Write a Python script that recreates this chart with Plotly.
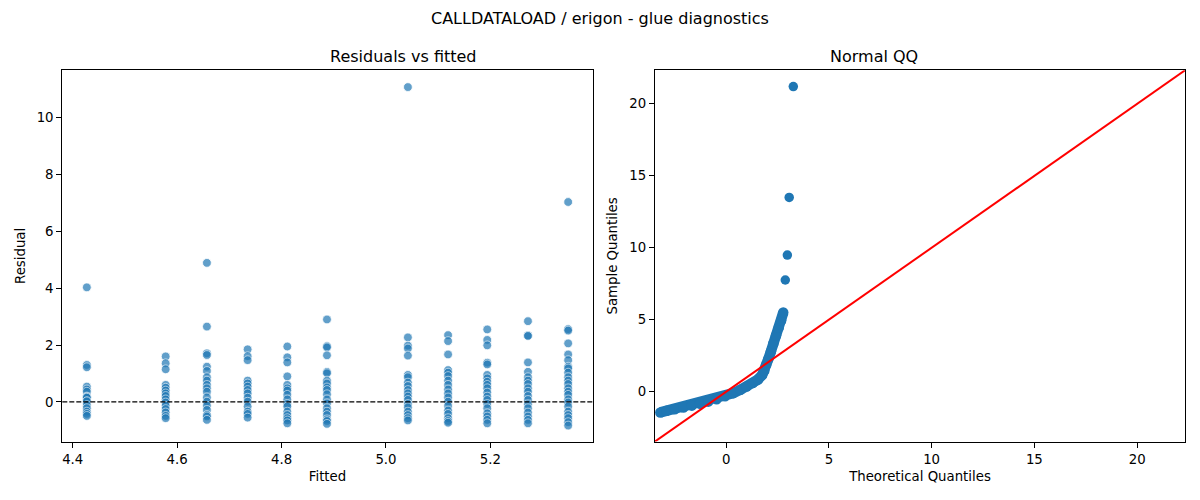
import plotly.graph_objects as go
from plotly.subplots import make_subplots

# ---- residuals vs fitted: one residual list per fitted level ----
fitted_levels = [4.427, 4.578, 4.657, 4.735, 4.811, 4.887, 5.042, 5.119, 5.194, 5.272, 5.349]

resid_g1 = [4.03, 1.30, 1.22, 0.54, 0.44, 0.36, 0.19, 0.17, 0.15, 0.01, 0.03, -0.11, -0.22, -0.34, -0.42, -0.49]
resid_g2 = [1.60, 1.36, 1.15, 0.60, 0.50, 0.40, 0.30, 0.21, 0.09, -0.02, -0.13, -0.25, -0.37, -0.49, -0.57]
resid_g3 = [4.89, 2.65, 1.71, 1.65, 1.24, 1.09, 0.87, 0.75, 0.60, 0.48, 0.36, 0.16, 0.01, -0.13,
            -0.28, -0.46, -0.51, -0.63]
resid_g4 = [1.85, 1.61, 1.47, 0.75, 0.65, 0.54, 0.42, 0.30, 0.15, 0.01, -0.16, -0.34, -0.42, -0.55]
resid_g5 = [1.95, 1.57, 1.39, 0.90, 0.60, 0.48, 0.40, 0.25, 0.09, -0.07, -0.16, -0.34, -0.46, -0.57,
            -0.65, -0.75]
resid_g6 = [2.90, 1.96, 1.92, 1.64, 1.06, 1.01, 0.75, 0.65, 0.51, 0.42, 0.27, 0.09, -0.05, -0.22,
            -0.34, -0.46, -0.61, -0.67, -0.77]
resid_g7 = [11.07, 2.27, 1.98, 1.88, 1.63, 0.95, 0.87, 0.68, 0.56, 0.42, 0.30, 0.19, 0.07, -0.07,
            -0.19, -0.34, -0.46, -0.57, -0.65]
resid_g8 = [2.35, 2.14, 1.67, 1.12, 1.03, 0.91, 0.75, 0.60, 0.44, 0.30, 0.16, 0.01, -0.14, -0.30,
            -0.42, -0.57, -0.67, -0.73]
resid_g9 = [2.55, 2.18, 1.99, 1.38, 1.32, 0.95, 0.83, 0.71, 0.60, 0.48, 0.33, 0.19, 0.07, -0.07,
            -0.22, -0.40, -0.51, -0.63, -0.75]
resid_g10 = [2.84, 2.34, 2.32, 1.39, 1.06, 0.87, 0.75, 0.63, 0.48, 0.36, 0.21, 0.07, -0.08, -0.22,
             -0.37, -0.51, -0.63, -0.75]
resid_g11 = [7.03, 2.56, 2.51, 2.06, 1.67, 1.47, 1.24, 1.18, 1.03, 0.87, 0.75, 0.63, 0.48, 0.36,
             0.25, 0.09, -0.02, -0.16, -0.34, -0.46, -0.57, -0.71, -0.83]

residual_groups = [resid_g1, resid_g2, resid_g3, resid_g4, resid_g5, resid_g6,
                   resid_g7, resid_g8, resid_g9, resid_g10, resid_g11]

# ---- normal QQ (read along the dense band + the separate outliers) ----
qq_theoretical = [-3.20, -2.89, -2.50, -2.08, -1.67, -1.27, -0.87, -0.46, -0.05, 0.35, 0.70, 1.00,
                  1.30, 1.55, 1.75, 1.86, 1.95, 2.05, 2.18, 2.30, 2.43, 2.56, 2.68, 2.78]
qq_sample = [-1.44, -1.33, -1.22, -1.10, -0.97, -0.84, -0.69, -0.52, -0.32, -0.10, 0.14, 0.36,
             0.60, 0.85, 1.15, 1.45, 1.85, 2.25, 2.80, 3.35, 3.90, 4.45, 4.95, 5.50]
qq_out_theoretical = [2.88, 2.98, 3.07, 3.27]
qq_out_sample = [7.76, 9.49, 13.50, 21.20]
qq_limits = [-3.46, 22.33]

BLUE = "#1f77b4"
FONT = "DejaVu Sans"

# page body has an 8px margin, so place things in page pixels minus that
W, H, OFF = 1200, 500, 8


def px_x(p):
    return (p - OFF) / W


def px_y(p):
    return 1 - (p - OFF) / H


left_dom = [px_x(62.3), px_x(592.7)]
right_dom = [px_x(655), px_x(1185)]
y_dom = [px_y(441.5), px_y(70.3)]

x_fit, y_res = [], []
for lvl, grp in zip(fitted_levels, residual_groups):
    x_fit += [lvl] * len(grp)
    y_res += grp

fig = make_subplots(rows=1, cols=2)

fig.add_trace(go.Scatter(x=x_fit, y=y_res, mode="markers",
                         marker=dict(color=BLUE, size=8.8, opacity=0.7,
                                     line=dict(color="white", width=0.8)),
                         showlegend=False), row=1, col=1)

fig.add_hline(y=0, line=dict(color="black", width=1.3, dash="5px,2px"), row=1, col=1)

# dense band drawn as thick line + markers
fig.add_trace(go.Scatter(x=qq_theoretical, y=qq_sample, mode="lines+markers",
                         line=dict(color=BLUE, width=10.5),
                         marker=dict(color=BLUE, size=10.5),
                         showlegend=False), row=1, col=2)
fig.add_trace(go.Scatter(x=qq_out_theoretical, y=qq_out_sample, mode="markers",
                         marker=dict(color=BLUE, size=9.5),
                         showlegend=False), row=1, col=2)
fig.add_trace(go.Scatter(x=qq_limits, y=qq_limits, mode="lines",
                         line=dict(color="red", width=2),
                         showlegend=False), row=1, col=2)

axis_style = dict(showline=True, mirror=True, linecolor="black", linewidth=1.1,
                  ticks="outside", ticklen=5, tickcolor="black", showgrid=False,
                  zeroline=False, tickfont=dict(size=13.3, color="black"))

fig.update_xaxes(axis_style)
fig.update_yaxes(axis_style)

fig.update_xaxes(domain=left_dom, range=[4.380, 5.396], tickvals=[4.4, 4.6, 4.8, 5.0, 5.2],
                 tickformat=".1f", title=dict(text="Fitted", standoff=6, font=dict(size=13.3)),
                 row=1, col=1)
fig.update_yaxes(domain=y_dom, range=[-1.39, 11.66], tickvals=[0, 2, 4, 6, 8, 10],
                 title=dict(text="Residual", standoff=8, font=dict(size=13.3)), row=1, col=1)
fig.update_xaxes(domain=right_dom, range=qq_limits, tickvals=[0, 5, 10, 15, 20],
                 title=dict(text="Theoretical Quantiles", standoff=6, font=dict(size=13.3)),
                 row=1, col=2)
fig.update_yaxes(domain=y_dom, range=qq_limits, tickvals=[0, 5, 10, 15, 20],
                 title=dict(text="Sample Quantiles", standoff=8, font=dict(size=13.3)), row=1, col=2)

fig.add_annotation(text="CALLDATALOAD / erigon - glue diagnostics", x=px_x(600), y=px_y(18),
                   xref="paper", yref="paper", yanchor="middle", showarrow=False, font=dict(size=16))
fig.add_annotation(text="Residuals vs fitted", x=sum(left_dom) / 2, y=px_y(57),
                   xref="paper", yref="paper", yanchor="middle", showarrow=False, font=dict(size=16))
fig.add_annotation(text="Normal QQ", x=sum(right_dom) / 2, y=px_y(57),
                   xref="paper", yref="paper", yanchor="middle", showarrow=False, font=dict(size=16))

fig.update_layout(width=W, height=H, margin=dict(l=0, r=0, t=0, b=0),
                  paper_bgcolor="white", plot_bgcolor="white",
                  font=dict(family=FONT, color="black"))

fig.write_html("out.html")
